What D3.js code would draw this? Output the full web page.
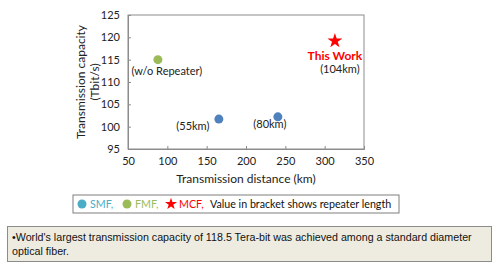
<!DOCTYPE html>
<html lang="en">
<head>
    <meta charset="UTF-8">
    <title>Transmission capacity</title>
    <script src="https://cdn.jsdelivr.net/npm/d3@7"></script>
    <style>
        body { margin: 0; background: white; }
        text { font-family: Lato, "Open Sans", sans-serif; }
    </style>
</head>
<body>
<script>
    const width = 500, height = 270;

    // data
    const fibers   = ["SMF", "SMF", "FMF", "MCF"];
    const distance = [165.5, 240.5, 88, 313];
    const capacity = [101.7, 102.2, 115, 119.2];
    const labels   = ["(55km)", "(80km)", "(w/o Repeater)", "(104km)"];
    const xTicks = [50, 100, 150, 200, 250, 300, 350];
    const yTicks = [95, 100, 105, 110, 115, 120, 125];

    const colors = { SMF: "#4f81bd", FMF: "#9bbb59", MCF: "#ff0000" };

    const svg = d3.select("body")
                  .append("svg")
                  .attr("width", width)
                  .attr("height", height);

    const x = d3.scaleLinear().domain([50, 350]).range([128, 364]);
    const y = d3.scaleLinear().domain([95, 125]).range([149, 15]);

    // plot frame
    svg.append("rect")
       .attr("x", x(50)).attr("y", y(125))
       .attr("width", x(350) - x(50)).attr("height", y(95) - y(125))
       .attr("fill", "none").attr("stroke", "#8c8c8c").attr("stroke-width", 1);

    const xAxis = svg.append("g")
        .attr("transform", `translate(0,${y(95)})`)
        .call(d3.axisBottom(x).tickValues(xTicks).tickSize(-3).tickPadding(8));
    const yAxis = svg.append("g")
        .attr("transform", `translate(${x(50)},0)`)
        .call(d3.axisLeft(y).tickValues(yTicks).tickSize(-3).tickPadding(8));

    [xAxis, yAxis].forEach(g => {
        g.select(".domain").attr("stroke", "#8c8c8c");
        g.selectAll(".tick line").attr("stroke", "#8c8c8c");
        g.selectAll(".tick text").attr("font-size", 11).attr("fill", "#222")
         .style("font-family", "Lato, sans-serif");
    });

    // axis titles
    svg.append("text")
       .attr("x", 246).attr("y", 183)
       .attr("text-anchor", "middle").attr("font-size", 12).attr("fill", "#222")
       .text("Transmission distance (km)");

    const yTitle = svg.append("text")
       .attr("transform", "translate(85,82) rotate(-90)")
       .attr("text-anchor", "middle").attr("font-size", 12).attr("fill", "#222");
    yTitle.append("tspan").attr("x", 0).attr("dy", 0).text("Transmission capacity");
    yTitle.append("tspan").attr("x", 0).attr("dy", 14).text("(Tbit/s)");

    // points
    const pts = d3.range(distance.length);
    svg.selectAll("circle.pt")
       .data(pts.filter(i => fibers[i] !== "MCF"))
       .join("circle").attr("class", "pt")
       .attr("cx", i => x(distance[i]))
       .attr("cy", i => y(capacity[i]))
       .attr("r", 4.5)
       .attr("fill", i => colors[fibers[i]]);

    svg.selectAll("path.star")
       .data(pts.filter(i => fibers[i] === "MCF"))
       .join("path").attr("class", "star")
       .attr("transform", i => `translate(${x(distance[i])},${y(capacity[i])})`)
       .attr("d", d3.symbol(d3.symbolStar, 70))
       .attr("fill", colors.MCF);

    // point labels (offsets from each point)
    const labelOffset = [[-26, 11], [-8, 11], [9, 15], [5, 32]];
    svg.selectAll("text.lbl")
       .data(pts)
       .join("text").attr("class", "lbl")
       .attr("x", i => x(distance[i]) + labelOffset[i][0])
       .attr("y", i => y(capacity[i]) + labelOffset[i][1])
       .attr("text-anchor", "middle")
       .attr("font-size", 11).attr("fill", "#222")
       .text(i => labels[i]);

    svg.append("text")
       .attr("x", x(313)).attr("y", y(119.2) + 19)
       .attr("text-anchor", "middle")
       .attr("font-size", 12).attr("font-weight", "bold").attr("fill", colors.MCF)
       .text("This Work");

    // legend
    const legend = svg.append("g");
    legend.append("rect")
          .attr("x", 73).attr("y", 195).attr("width", 326).attr("height", 18)
          .attr("fill", "white").attr("stroke", "#7f7f7f").attr("stroke-width", 1);

    const legendItems = [
        { name: "SMF,", color: "#4bacc6", sym: "circle", x: 82 },
        { name: "FMF,", color: "#9bbb59", sym: "circle", x: 127 },
        { name: "MCF,", color: "#ff0000", sym: "star", x: 171 }
    ];
    legendItems.forEach(d => {
        if (d.sym === "circle") {
            legend.append("circle").attr("cx", d.x).attr("cy", 204).attr("r", 4.5).attr("fill", d.color);
        } else {
            legend.append("path").attr("transform", `translate(${d.x},204)`)
                  .attr("d", d3.symbol(d3.symbolStar, 45)).attr("fill", d.color);
        }
        legend.append("text").attr("x", d.x + 8).attr("y", 208)
              .attr("font-size", 10.7).attr("fill", d.color).text(d.name);
    });
    legend.append("text").attr("x", 210).attr("y", 208)
          .attr("font-size", 10.7).attr("fill", "#111")
          .text("Value in bracket shows repeater length");

    // note box
    svg.append("rect")
       .attr("x", 7.5).attr("y", 226.5).attr("width", 484).attr("height", 35)
       .attr("fill", "#eeece1").attr("stroke", "#8c8c8c");
    const note = svg.append("text")
       .attr("font-size", 10.7).attr("fill", "#111")
       .style("font-family", "'Liberation Sans', Arial, sans-serif");
    note.append("tspan").attr("x", 12).attr("y", 241)
        .text("\u2022World's largest transmission capacity of 118.5 Tera-bit was achieved among a standard diameter");
    note.append("tspan").attr("x", 12).attr("y", 255).text("optical fiber.");
</script>
</body>
</html>
